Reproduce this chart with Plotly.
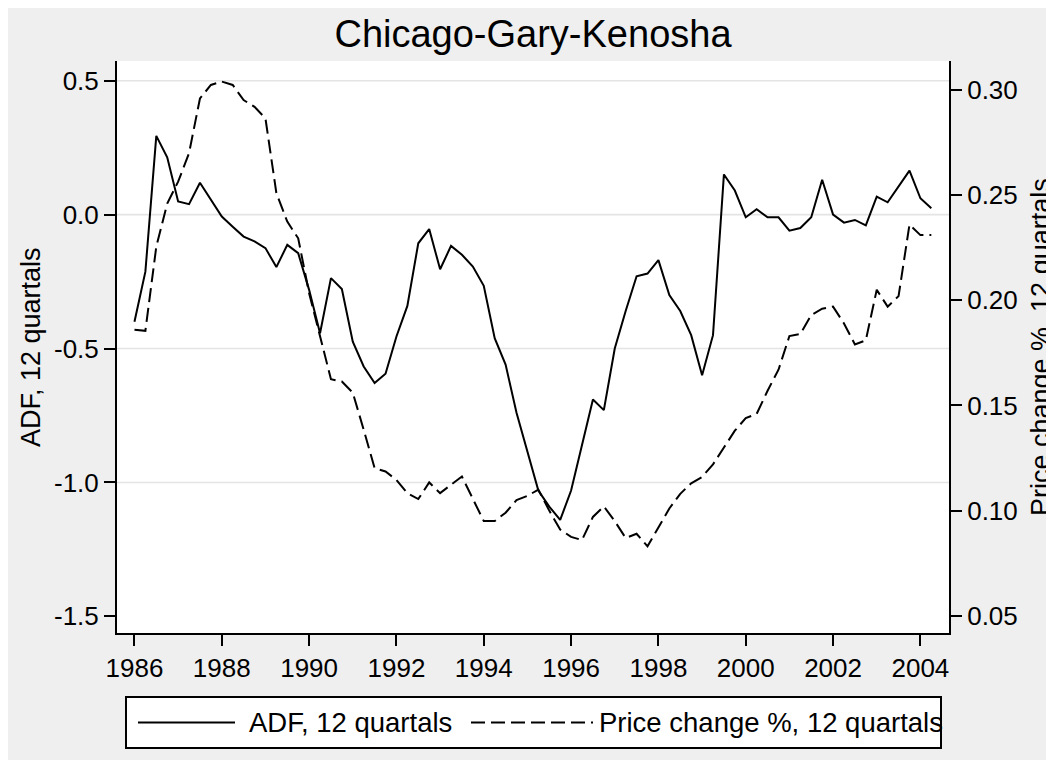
import plotly.graph_objects as go

# ---------------- data ----------------
QUARTERS = [
    1986.00, 1986.25, 1986.50, 1986.75, 1987.00, 1987.25, 1987.50, 1987.75,
    1988.00, 1988.25, 1988.50, 1988.75, 1989.00, 1989.25, 1989.50, 1989.75,
    1990.00, 1990.25, 1990.50, 1990.75, 1991.00, 1991.25, 1991.50, 1991.75,
    1992.00, 1992.25, 1992.50, 1992.75, 1993.00, 1993.25, 1993.50, 1993.75,
    1994.00, 1994.25, 1994.50, 1994.75, 1995.00, 1995.25, 1995.50, 1995.75,
    1996.00, 1996.25, 1996.50, 1996.75, 1997.00, 1997.25, 1997.50, 1997.75,
    1998.00, 1998.25, 1998.50, 1998.75, 1999.00, 1999.25, 1999.50, 1999.75,
    2000.00, 2000.25, 2000.50, 2000.75, 2001.00, 2001.25, 2001.50, 2001.75,
    2002.00, 2002.25, 2002.50, 2002.75, 2003.00, 2003.25, 2003.50, 2003.75,
    2004.00, 2004.25,
]

ADF = [
    -0.400, -0.213, 0.294, 0.214, 0.049, 0.039, 0.119, 0.055,
    -0.007, -0.045, -0.082, -0.100, -0.125, -0.196, -0.113, -0.144,
    -0.281, -0.443, -0.237, -0.278, -0.474, -0.567, -0.629, -0.594,
    -0.455, -0.341, -0.107, -0.054, -0.204, -0.117, -0.150, -0.194,
    -0.266, -0.461, -0.560, -0.740, -0.880, -1.030, -1.090, -1.140,
    -1.030, -0.860, -0.690, -0.730, -0.500, -0.360, -0.230, -0.220,
    -0.170, -0.300, -0.360, -0.450, -0.600, -0.450, 0.150, 0.090,
    -0.010, 0.020, -0.010, -0.010, -0.060, -0.050, -0.010, 0.130,
    0.000, -0.030, -0.020, -0.040, 0.067, 0.046, 0.104, 0.164,
    0.061, 0.024,
]

PRICE_CHANGE = [
    0.1860, 0.1855, 0.2255, 0.2460, 0.2564, 0.2700, 0.2960, 0.3024,
    0.3040, 0.3024, 0.2952, 0.2920, 0.2865, 0.2510, 0.2374, 0.2295,
    0.2034, 0.1827, 0.1625, 0.1614, 0.1561, 0.1384, 0.1202, 0.1186,
    0.1146, 0.1083, 0.1055, 0.1134, 0.1083, 0.1123, 0.1162, 0.1056,
    0.0950, 0.0950, 0.0990, 0.1050, 0.1070, 0.1100, 0.1000, 0.0910,
    0.0875, 0.0860, 0.0970, 0.1020, 0.0950, 0.0870, 0.0890, 0.0830,
    0.0920, 0.1010, 0.1080, 0.1130, 0.1160, 0.1220, 0.1300, 0.1380,
    0.1440, 0.1460, 0.1570, 0.1670, 0.1830, 0.1840, 0.1930, 0.1960,
    0.1970, 0.1890, 0.1790, 0.1810, 0.2050, 0.1970, 0.2020, 0.2360,
    0.2310, 0.2310,
]

TITLE = "Chicago-Gary-Kenosha"
SERIES_NAMES = ["ADF, 12 quartals", "Price change %, 12 quartals"]
LEFT_TITLE = "ADF, 12 quartals"
RIGHT_TITLE = "Price change %, 12 quartals"

X_TICKS = [1986, 1988, 1990, 1992, 1994, 1996, 1998, 2000, 2002, 2004]
LEFT_TICKS = [0.5, 0.0, -0.5, -1.0, -1.5]
LEFT_LABELS = ["0.5", "0.0", "-0.5", "-1.0", "-1.5"]
GRID_VALUES = [0.5, 0.0, -0.5, -1.0]
RIGHT_TICKS = [0.30, 0.25, 0.20, 0.15, 0.10, 0.05]
RIGHT_LABELS = ["0.30", "0.25", "0.20", "0.15", "0.10", "0.05"]

# ---------------- layout geometry (pixels) ----------------
W, H = 1054, 760
OFF = 8                      # page body margin
L, R, T, B = 109, 113, 53, 135
PW, PH = W - L - R, H - T - B
FONT = "Liberation Sans, Arial, sans-serif"
BG = "#EFEFEF"
LINE_W = 2.0
DASH = "14px,6px"


def px(x):
    """screen x (px) -> paper x"""
    return (x - OFF - L) / PW


def py(y):
    """screen y (px) -> paper y"""
    return (H - B - (y - OFF)) / PH


fig = go.Figure()

fig.add_trace(go.Scatter(
    x=QUARTERS, y=ADF, mode="lines", name=SERIES_NAMES[0],
    line=dict(color="black", width=LINE_W), yaxis="y", showlegend=False,
))
fig.add_trace(go.Scatter(
    x=QUARTERS, y=PRICE_CHANGE, mode="lines", name=SERIES_NAMES[1],
    line=dict(color="black", width=LINE_W, dash=DASH), yaxis="y2",
    showlegend=False,
))

shapes = []
for v in GRID_VALUES:
    shapes.append(dict(type="line", xref="paper", yref="y", x0=0, x1=1,
                       y0=v, y1=v, line=dict(color="#E4E4E4", width=1.6),
                       layer="below"))

# legend drawn by hand (Stata style)
shapes.append(dict(type="rect", xref="paper", yref="paper",
                   x0=px(126), x1=px(941), y0=py(748), y1=py(697),
                   line=dict(color="black", width=2), fillcolor="white",
                   layer="below"))
shapes.append(dict(type="line", xref="paper", yref="paper",
                   x0=px(138), x1=px(235), y0=py(722.5), y1=py(722.5),
                   line=dict(color="black", width=LINE_W)))
shapes.append(dict(type="line", xref="paper", yref="paper",
                   x0=px(471), x1=px(593), y0=py(722.5), y1=py(722.5),
                   line=dict(color="black", width=LINE_W, dash=DASH)))

annotations = [
    dict(text=SERIES_NAMES[0], xref="paper", yref="paper", x=px(247),
         y=py(722), xanchor="left", yanchor="middle", showarrow=False,
         font=dict(family=FONT, size=27.5, color="black")),
    dict(text=SERIES_NAMES[1], xref="paper", yref="paper", x=px(597),
         y=py(722), xanchor="left", yanchor="middle", showarrow=False,
         font=dict(family=FONT, size=27.5, color="black")),
    dict(text=LEFT_TITLE, xref="paper", yref="paper", x=px(31),
         y=py(347), xanchor="center", yanchor="middle", textangle=-90,
         showarrow=False, font=dict(family=FONT, size=27, color="black")),
    dict(text=RIGHT_TITLE, xref="paper", yref="paper", x=px(1041),
         y=py(347), xanchor="center", yanchor="middle", textangle=-90,
         showarrow=False, font=dict(family=FONT, size=27, color="black")),
]

axis_common = dict(
    showline=True, linecolor="black", linewidth=2, ticks="outside",
    ticklen=11, tickwidth=2, tickcolor="black", showgrid=False,
    zeroline=False, tickfont=dict(family=FONT, size=26, color="black"),
)

fig.update_layout(
    width=W, height=H,
    margin=dict(l=L, r=R, t=T, b=B, pad=0),
    paper_bgcolor=BG, plot_bgcolor="white",
    font=dict(family=FONT, color="black"),
    title=dict(text=TITLE, x=0.5, xref="paper", xanchor="center",
               y=1 - (34 - OFF) / H, yref="container", yanchor="middle",
               font=dict(family=FONT, size=38, color="black")),
    xaxis=dict(range=[1985.6, 2004.655], tickvals=X_TICKS, **axis_common),
    yaxis=dict(range=[-1.562, 0.5735], tickvals=LEFT_TICKS,
               ticktext=LEFT_LABELS, side="left", **axis_common),
    yaxis2=dict(range=[0.0418, 0.3138], tickvals=RIGHT_TICKS,
                ticktext=RIGHT_LABELS, side="right", overlaying="y",
                anchor="x", **axis_common),
    shapes=shapes,
    annotations=annotations,
    showlegend=False,
)

fig.write_html("out.html", config={"displayModeBar": False})
